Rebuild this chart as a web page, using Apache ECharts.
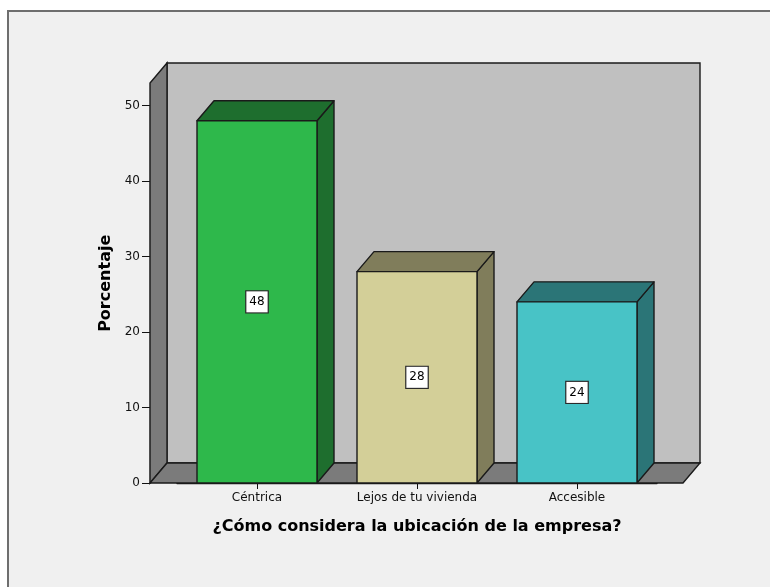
<!DOCTYPE html>
<html>
<head>
<meta charset="utf-8">
<title>Ubicación de la empresa</title>
<script src="https://cdn.jsdelivr.net/npm/echarts@6/dist/echarts.min.js"></script>
<style>
  html, body { margin: 0; padding: 0; background: #ffffff; }
  #chart { width: 770px; height: 587px; }
</style>
</head>
<body>
<div id="chart"></div>
<script>
// Categories and percentages
const categories = ['Céntrica', 'Lejos de tu vivienda', 'Accesible'];
const percentages = [48, 28, 24];
const yMax = 50;        // highest tick
const boxTop = 53;      // height of the back wall / side wall

// Face colours per bar: front, top/side
const frontColors = ['#2eb84b', '#d3cf98', '#48c3c6'];
const shadeColors = ['#1e6e2e', '#807d5b', '#2b7577'];

// Depth offset of the pseudo-3D box (pixels)
const DX = 17, DY = -20;
const BAR_FRACTION = 0.75;   // bar width relative to category band
const OUTLINE = '#1a1a1a';

const chart = echarts.init(document.getElementById('chart'), null, { renderer: 'canvas' });

// Walls and floor drawn from the outer grid's coordinate system
function renderWalls(params, api) {
  const cs = params.coordSys;
  const L = cs.x, R = cs.x + cs.width, B = cs.y + cs.height;
  const T = api.coord([0, boxTop])[1];
  const line = { stroke: OUTLINE, lineWidth: 1.4 };
  return {
    type: 'group',
    children: [
      {
        type: 'polygon',
        shape: { points: [[L + DX, T + DY], [R + DX, T + DY], [R + DX, B + DY], [L + DX, B + DY]] },
        style: Object.assign({ fill: '#c0c0c0' }, line)
      },
      {
        type: 'polygon',
        shape: { points: [[L, B], [L, T], [L + DX, T + DY], [L + DX, B + DY]] },
        style: Object.assign({ fill: '#7b7b7b' }, line)
      },
      {
        type: 'polygon',
        shape: { points: [[L, B], [R, B], [R + DX, B + DY], [L + DX, B + DY]] },
        style: Object.assign({ fill: '#7b7b7b' }, line)
      }
    ]
  };
}

// 3D bar: front face, top face, right face and a boxed value label
function renderBar(params, api) {
  const idx = api.value(0);
  const val = api.value(1);
  const band = api.size([1, 0])[0];
  const half = band * BAR_FRACTION / 2;
  const base = api.coord([idx, 0]);
  const top = api.coord([idx, val]);
  const mid = api.coord([idx, val / 2]);
  const xl = base[0] - half, xr = base[0] + half, yb = base[1], yt = top[1];
  const i = params.dataIndex;
  const line = { stroke: OUTLINE, lineWidth: 1.4, lineJoin: 'round' };
  return {
    type: 'group',
    children: [
      {
        type: 'polygon',
        shape: { points: [[xr, yt], [xr, yb], [xr + DX, yb + DY], [xr + DX, yt + DY]] },
        style: Object.assign({ fill: shadeColors[i] }, line)
      },
      {
        type: 'polygon',
        shape: { points: [[xl, yt], [xr, yt], [xr + DX, yt + DY], [xl + DX, yt + DY]] },
        style: Object.assign({ fill: shadeColors[i] }, line)
      },
      {
        type: 'rect',
        shape: { x: xl, y: yt, width: xr - xl, height: yb - yt },
        style: Object.assign({ fill: frontColors[i] }, line)
      },
      {
        type: 'text',
        x: mid[0],
        y: mid[1],
        style: {
          text: String(val),
          align: 'center',
          verticalAlign: 'middle',
          fontFamily: 'DejaVu Sans',
          fontSize: 12,
          fill: '#000000',
          backgroundColor: '#ffffff',
          borderColor: '#2a2a2a',
          borderWidth: 1.2,
          padding: [5, 3, 4, 3]
        }
      }
    ]
  };
}

const labelFont = { fontFamily: 'DejaVu Sans', fontSize: 12, color: '#111111' };
const titleFont = { fontFamily: 'DejaVu Sans', fontWeight: 'bold', fontSize: 16, color: '#000000' };

const option = {
  backgroundColor: '#ffffff',
  animation: false,
  graphic: [
    {
      type: 'rect',
      left: 7, top: 10, z: -10,
      shape: { x: 0, y: 0, width: 790, height: 600 },
      style: { fill: '#f0f0f0', stroke: '#6e6e6e', lineWidth: 2 }
    }
  ],
  grid: [
    // outer box (walls, floor, value axis)
    { left: 150, right: 87, top: 105.6, bottom: 104 },
    // category band area (bars, category axis)
    { left: 177, right: 113, top: 105.6, bottom: 104 }
  ],
  xAxis: [
    { gridIndex: 0, type: 'value', min: 0, max: 1, show: false },
    {
      gridIndex: 1,
      type: 'category',
      data: categories,
      axisLine: { show: true, lineStyle: { color: OUTLINE, width: 1.4 } },
      axisTick: { show: true, alignWithLabel: true, length: 6, lineStyle: { color: '#111', width: 1 } },
      axisLabel: Object.assign({ margin: 9, interval: 0 }, labelFont),
      name: '¿Cómo considera la ubicación de la empresa?',
      nameLocation: 'middle',
      nameGap: 36,
      nameTextStyle: titleFont
    }
  ],
  yAxis: [
    {
      gridIndex: 0,
      type: 'value',
      min: 0,
      max: yMax,
      interval: 10,
      splitLine: { show: false },
      axisLine: { show: true, lineStyle: { color: OUTLINE, width: 1.4 } },
      axisTick: { show: true, length: 8, lineStyle: { color: '#111', width: 1 } },
      axisLabel: Object.assign({ margin: 10 }, labelFont),
      name: 'Porcentaje',
      nameLocation: 'middle',
      nameGap: 34,
      nameTextStyle: Object.assign({ padding: [0, 0, 0, 22] }, titleFont)
    },
    { gridIndex: 1, type: 'value', min: 0, max: yMax, show: false }
  ],
  series: [
    {
      type: 'custom',
      xAxisIndex: 0,
      yAxisIndex: 0,
      renderItem: renderWalls,
      data: [[0, 0]],
      z: 1,
      silent: true
    },
    {
      type: 'custom',
      xAxisIndex: 1,
      yAxisIndex: 1,
      renderItem: renderBar,
      data: percentages.map((v, i) => [i, v]),
      z: 3
    }
  ]
};

chart.setOption(option);
</script>
</body>
</html>
